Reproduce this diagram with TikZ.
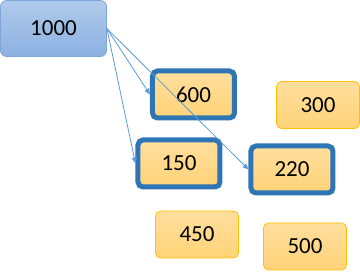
\documentclass[tikz,border=0pt]{standalone}
\usepackage{fontspec}
\setmainfont{Carlito}
\usetikzlibrary{arrows.meta,positioning}
\definecolor{selblue}{HTML}{2E75B6}
\definecolor{gold}{HTML}{FFC000}
\definecolor{orangetop}{HTML}{FFDE9E}
\definecolor{orangebot}{HTML}{FFD377}
\definecolor{rootline}{HTML}{7EA6D9}
\definecolor{roottop}{HTML}{B0CAEB}
\definecolor{rootbot}{HTML}{8CB1E1}
\definecolor{linkblue}{HTML}{5B9BD5}
\begin{document}
\begin{tikzpicture}[x=1pt, y=-1pt,
  box/.style={draw=#1, line width=0.75pt, rounded corners=5pt, align=center,
              font=\fontsize{23}{27}\selectfont, inner sep=0pt,
              minimum width=83pt, minimum height=47pt,
              top color=orangetop, bottom color=orangebot},
  box/.default=gold,
  sel/.style={box=selblue, line width=5pt, minimum width=82pt, minimum height=47pt},
  arr/.style={-{Triangle[length=6pt,width=5pt]}, draw=linkblue, line width=0.8pt}]
\useasboundingbox (0,0) rectangle (360,275);
\node[box=rootline, minimum width=106pt, minimum height=56pt, rounded corners=6pt,
      top color=roottop, bottom color=rootbot] (n1000) at (53.5,28.5) {1000};
\node[sel] (n600) at (193.5,94.5) {600};
\node[sel] (n150) at (179,163.5) {150};
\node[sel] (n220) at (292,169.5) {220};
\node[box] (n300) at (318,105) {300};
\node[box] (n450) at (197,234.5) {450};
\node[box] (n500) at (305,246.5) {500};
\draw[arr] (n1000.east) -- (n600.west);
\draw[arr] (n1000.east) -- (n150.west);
\draw[arr] (n1000.east) -- (n220.west);
\end{tikzpicture}
\end{document}
